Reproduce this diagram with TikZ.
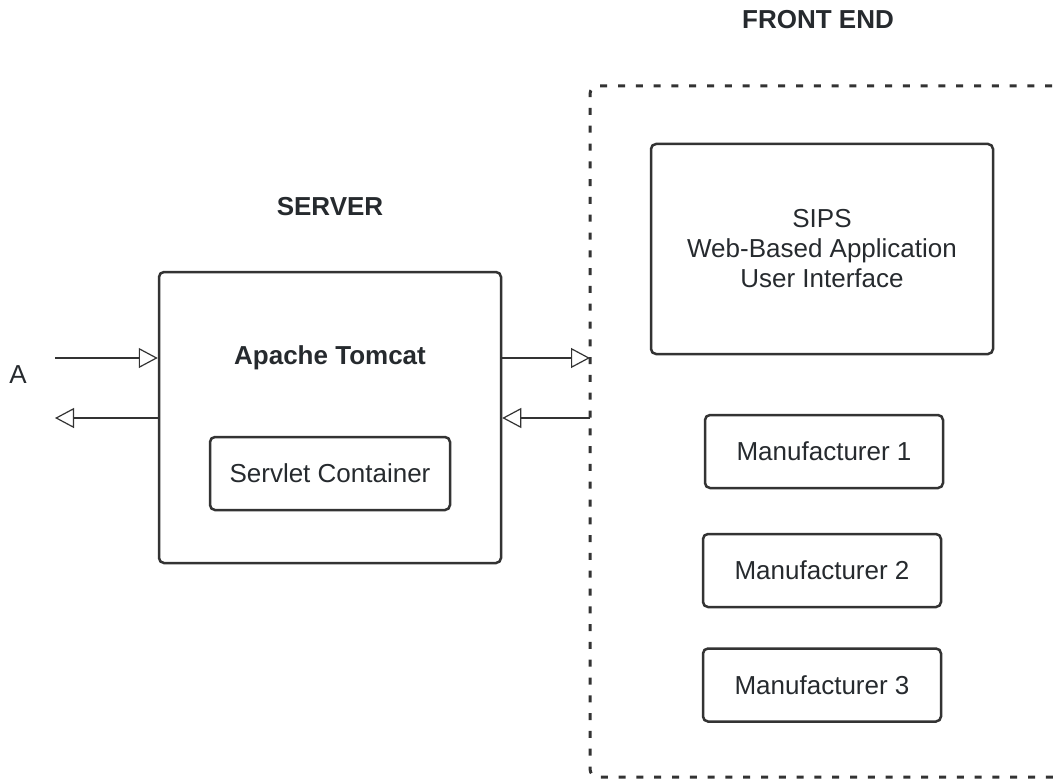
\documentclass[tikz,border=0pt]{standalone}
\usepackage{fontspec}
\setmainfont{Liberation Sans}
\usepackage{xcolor}
\usetikzlibrary{arrows.meta, calc}
\definecolor{edge}{HTML}{333333}
\definecolor{ink}{HTML}{262A2E}

\begin{document}
\begin{tikzpicture}[x = 0.5pt, y = -0.5pt, > = {Triangle[open, length = 9.5pt, width = 10pt]},
    every node/.style = {text = ink, font = \fontsize{13}{15}\selectfont},
    box/.style = {draw = edge, line width = 1.25pt, rounded corners = 2.5pt, align = center},
    flow/.style = {->, draw = edge, line width = 0.6pt},
    frame/.style = {draw = edge, line width = 1.5pt, dash pattern = on 3.5pt off 5.4pt, rounded corners = 4pt}]
          \useasboundingbox (0,0) rectangle (1056,781);
          % server side
          \node[font = \fontsize{13}{15}\selectfont\bfseries] (srv) at (330,207) {SERVER};
          \node[box, minimum width = 171pt, minimum height = 145.5pt] (tomcat) at (330,417.5) {};
          \node[font = \fontsize{13}{15}\selectfont\bfseries] (tctitle) at (330,358) {Apache Tomcat};
          \node[box, minimum width = 120pt, minimum height = 36.5pt] (servlet) at (330,473.5) {Servlet Container};
          % front end
          \node[font = \fontsize{13}{15}\selectfont\bfseries] (fe) at (818,20) {FRONT END};
          \draw[frame] (1070,86) -- (590,86) -- (590,777) -- (1070,777);
          \node[box, minimum width = 171pt, minimum height = 105pt] (sips) at (822,249)
              {SIPS\\Web-Based Application\\User Interface};
          \node[box, minimum width = 119pt, minimum height = 36.5pt] (man1) at (824,451.5) {Manufacturer 1};
          \node[box, minimum width = 119pt, minimum height = 36.5pt] (man2) at (822,570.5) {Manufacturer 2};
          \node[box, minimum width = 119pt, minimum height = 36.5pt] (man3) at (822,685) {Manufacturer 3};
          % connectors
          \node (a) at (18,375) {A};
          \coordinate (ain) at (55,358);
          \coordinate (aout) at (55,418);
          \coordinate (fein) at (590,358);
          \coordinate (feout) at (590,418);
          \draw[flow] (ain) -- (tomcat.west |- ain);
          \draw[flow] (tomcat.west |- aout) -- (aout);
          \draw[flow] (tomcat.east |- fein) -- (fein);
          \draw[flow] (feout) -- (tomcat.east |- feout);
        \end{tikzpicture}
\end{document}
